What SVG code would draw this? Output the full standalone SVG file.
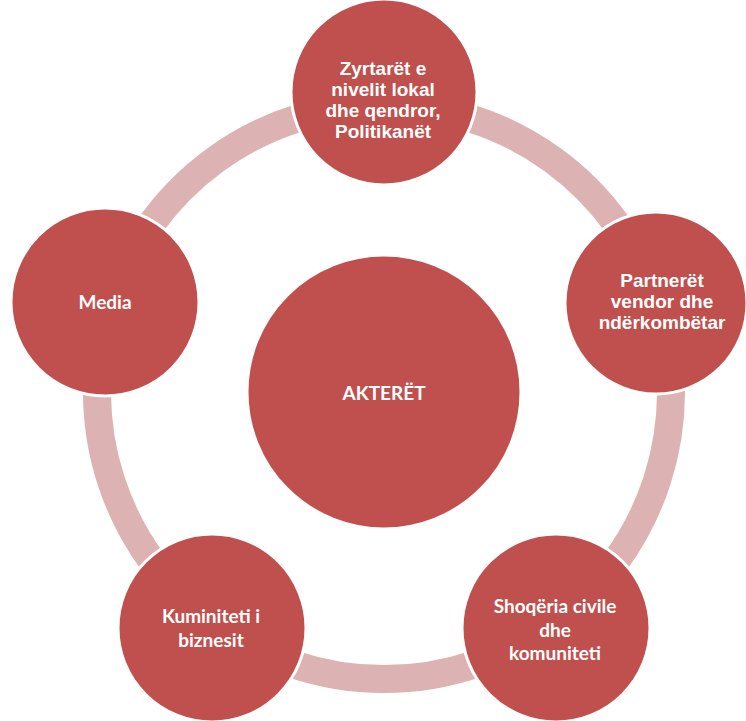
<svg xmlns="http://www.w3.org/2000/svg" width="746" height="721" viewBox="0 0 746 721">
<style>
.ring{fill:none;stroke:#DDB2B2;stroke-width:28}
.node{fill:#C0504D;stroke:#FFFFFF;stroke-width:3}
.ta{font-family:"Liberation Sans",Arial,sans-serif;font-weight:bold;font-size:19px;fill:#FFFFFF;text-anchor:middle}
.tc{font-family:Lato,"Open Sans",sans-serif;font-weight:bold;font-size:19px;fill:#FFFFFF;text-anchor:middle}
</style>
<rect width="746" height="721" fill="#FFFFFF"/>
<g id="connectors">
<path class="ring" d="M384,105 A287,287 0 0 1 656.8,302.8"/>
<path class="ring" d="M656.8,302.8 A287,287 0 0 1 553.1,623.9"/>
<path class="ring" d="M553.1,623.9 A287,287 0 0 1 214.9,623.9"/>
<path class="ring" d="M214.9,623.9 A287,287 0 0 1 110.9,303.8"/>
<path class="ring" d="M110.9,303.8 A287,287 0 0 1 384,105"/>
</g>
<g id="center">
<circle class="node" cx="384" cy="392" r="137"/>
<text class="tc" x="384" y="400">AKTERËT</text>
</g>
<g id="top">
<circle class="node" cx="384" cy="92" r="93"/>
<text class="ta" x="383" y="75">Zyrtarët e</text>
<text class="ta" x="383" y="96">nivelit lokal</text>
<text class="ta" x="383" y="117">dhe qendror,</text>
<text class="ta" x="383" y="138">Politikanët</text>
</g>
<g id="right">
<circle class="node" cx="656" cy="303" r="91"/>
<text class="ta" x="662" y="287">Partnerët</text>
<text class="ta" x="662" y="308">vendor dhe</text>
<text class="ta" x="662" y="329">ndërkombëtar</text>
</g>
<g id="bottom-right">
<circle class="node" cx="556" cy="628" r="94"/>
<text class="tc" x="555" y="613">Shoqëria civile</text>
<text class="tc" x="555" y="637">dhe</text>
<text class="tc" x="555" y="660">komuniteti</text>
</g>
<g id="bottom-left">
<circle class="node" cx="212" cy="628" r="94"/>
<text class="tc" x="211" y="623">Kuminiteti i</text>
<text class="tc" x="211" y="647">biznesit</text>
</g>
<g id="left">
<circle class="node" cx="105" cy="302" r="94"/>
<text class="tc" x="105" y="309">Media</text>
</g>
</svg>
